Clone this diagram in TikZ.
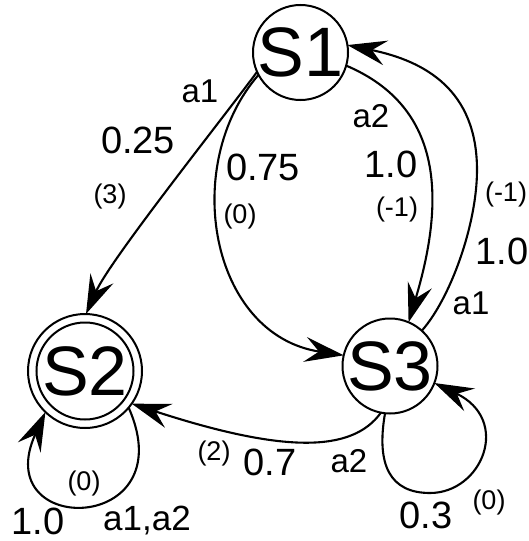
\documentclass[tikz,border=0pt]{standalone}
\usepackage{fontspec}
\setmainfont{Liberation Sans}
\usetikzlibrary{arrows.meta}
\begin{document}
\begin{tikzpicture}[x=1pt,y=-1pt,
  every node/.style={inner sep=0pt, outer sep=0pt},
  state/.style={circle, draw, line width=2pt, minimum size=95pt, font=\fontsize{70}{70}\selectfont},
  edge/.style={line width=2.1pt, -{Stealth[length=39pt,width=25pt,inset=14pt]}},
  prob/.style={font=\fontsize{38}{38}\selectfont},
  act/.style={font=\fontsize{33}{33}\selectfont},
  rew/.style={font=\fontsize{27}{27}\selectfont}]
\useasboundingbox (0,0) rectangle (528,541);

% states
\node[state] (S1) at (300.5,52.5) {\makebox[0pt]{S1}};
\node[state, minimum size=114pt] (S2) at (85,371) {\makebox[0pt]{S2}};
\draw[line width=2pt] (S2.center) circle[radius=48.5pt];
\node[state] (S3) at (390,366) {\makebox[0pt]{S3}};

% edges
\draw[edge] (S1.204) .. controls (220,122) and (110,260) .. (S2.89);
\draw[edge] (S1.208) .. controls (180,165) and (210,335) .. (S3.167);
\draw[edge] (S1.-16) .. controls (446,108) and (444,204) .. (S3.67);
\coordinate (m3) at (477,170);
\draw[edge] (S3.48) .. controls (450,299) and (477,225) .. (m3) .. controls (477,90) and (425,61) .. (S1.9);
\draw[edge] (S3.259) .. controls (352,453) and (283,453) .. (S2.-35);
\draw[edge] (S2.-40) .. controls (185,535) and (-12,538) .. (S2.226);
\coordinate (m7) at (430,493);
\draw[edge] (S3.264) .. controls (376,465) and (390,493) .. (m7) .. controls (482,493) and (512,420) .. (S3.-21);

% labels S1 -> S2
\node[act]  (l1a) at (200,91)  {a1};
\node[prob] (l1p) at (138,140) {0.25};
\node[rew]  (l1r) at (110,197) {(3)};
% labels S1 -> S3 (left)
\node[prob] (l2p) at (263,167) {0.75};
\node[rew]  (l2r) at (240,217) {(0)};
% labels S1 -> S3 (a2)
\node[act]  (l3a) at (371,116) {a2};
\node[prob] (l3p) at (391,164) {1.0};
\node[rew]  (l3r) at (397,210) {(-1)};
% labels S3 -> S1
\node[rew]  (l4r) at (506,195) {(-1)};
\node[prob] (l4p) at (502,251) {1.0};
\node[act]  (l4a) at (471,303) {a1};
% labels S3 -> S2
\node[rew]  (l5r) at (214,454) {(2)};
\node[prob] (l5p) at (270,462) {0.7};
\node[act]  (l5a) at (349,461) {a2};
% S2 loop
\node[rew]  (l6r) at (84,484)  {(0)};
\node[prob] (l6p) at (38,521)  {1.0};
\node[act, font=\fontsize{35}{35}\selectfont] (l6a) at (147,521) {a1,a2};
% S3 loop
\node[prob] (l7p) at (426,515) {0.3};
\node[rew]  (l7r) at (489,503) {(0)};
\end{tikzpicture}
\end{document}
